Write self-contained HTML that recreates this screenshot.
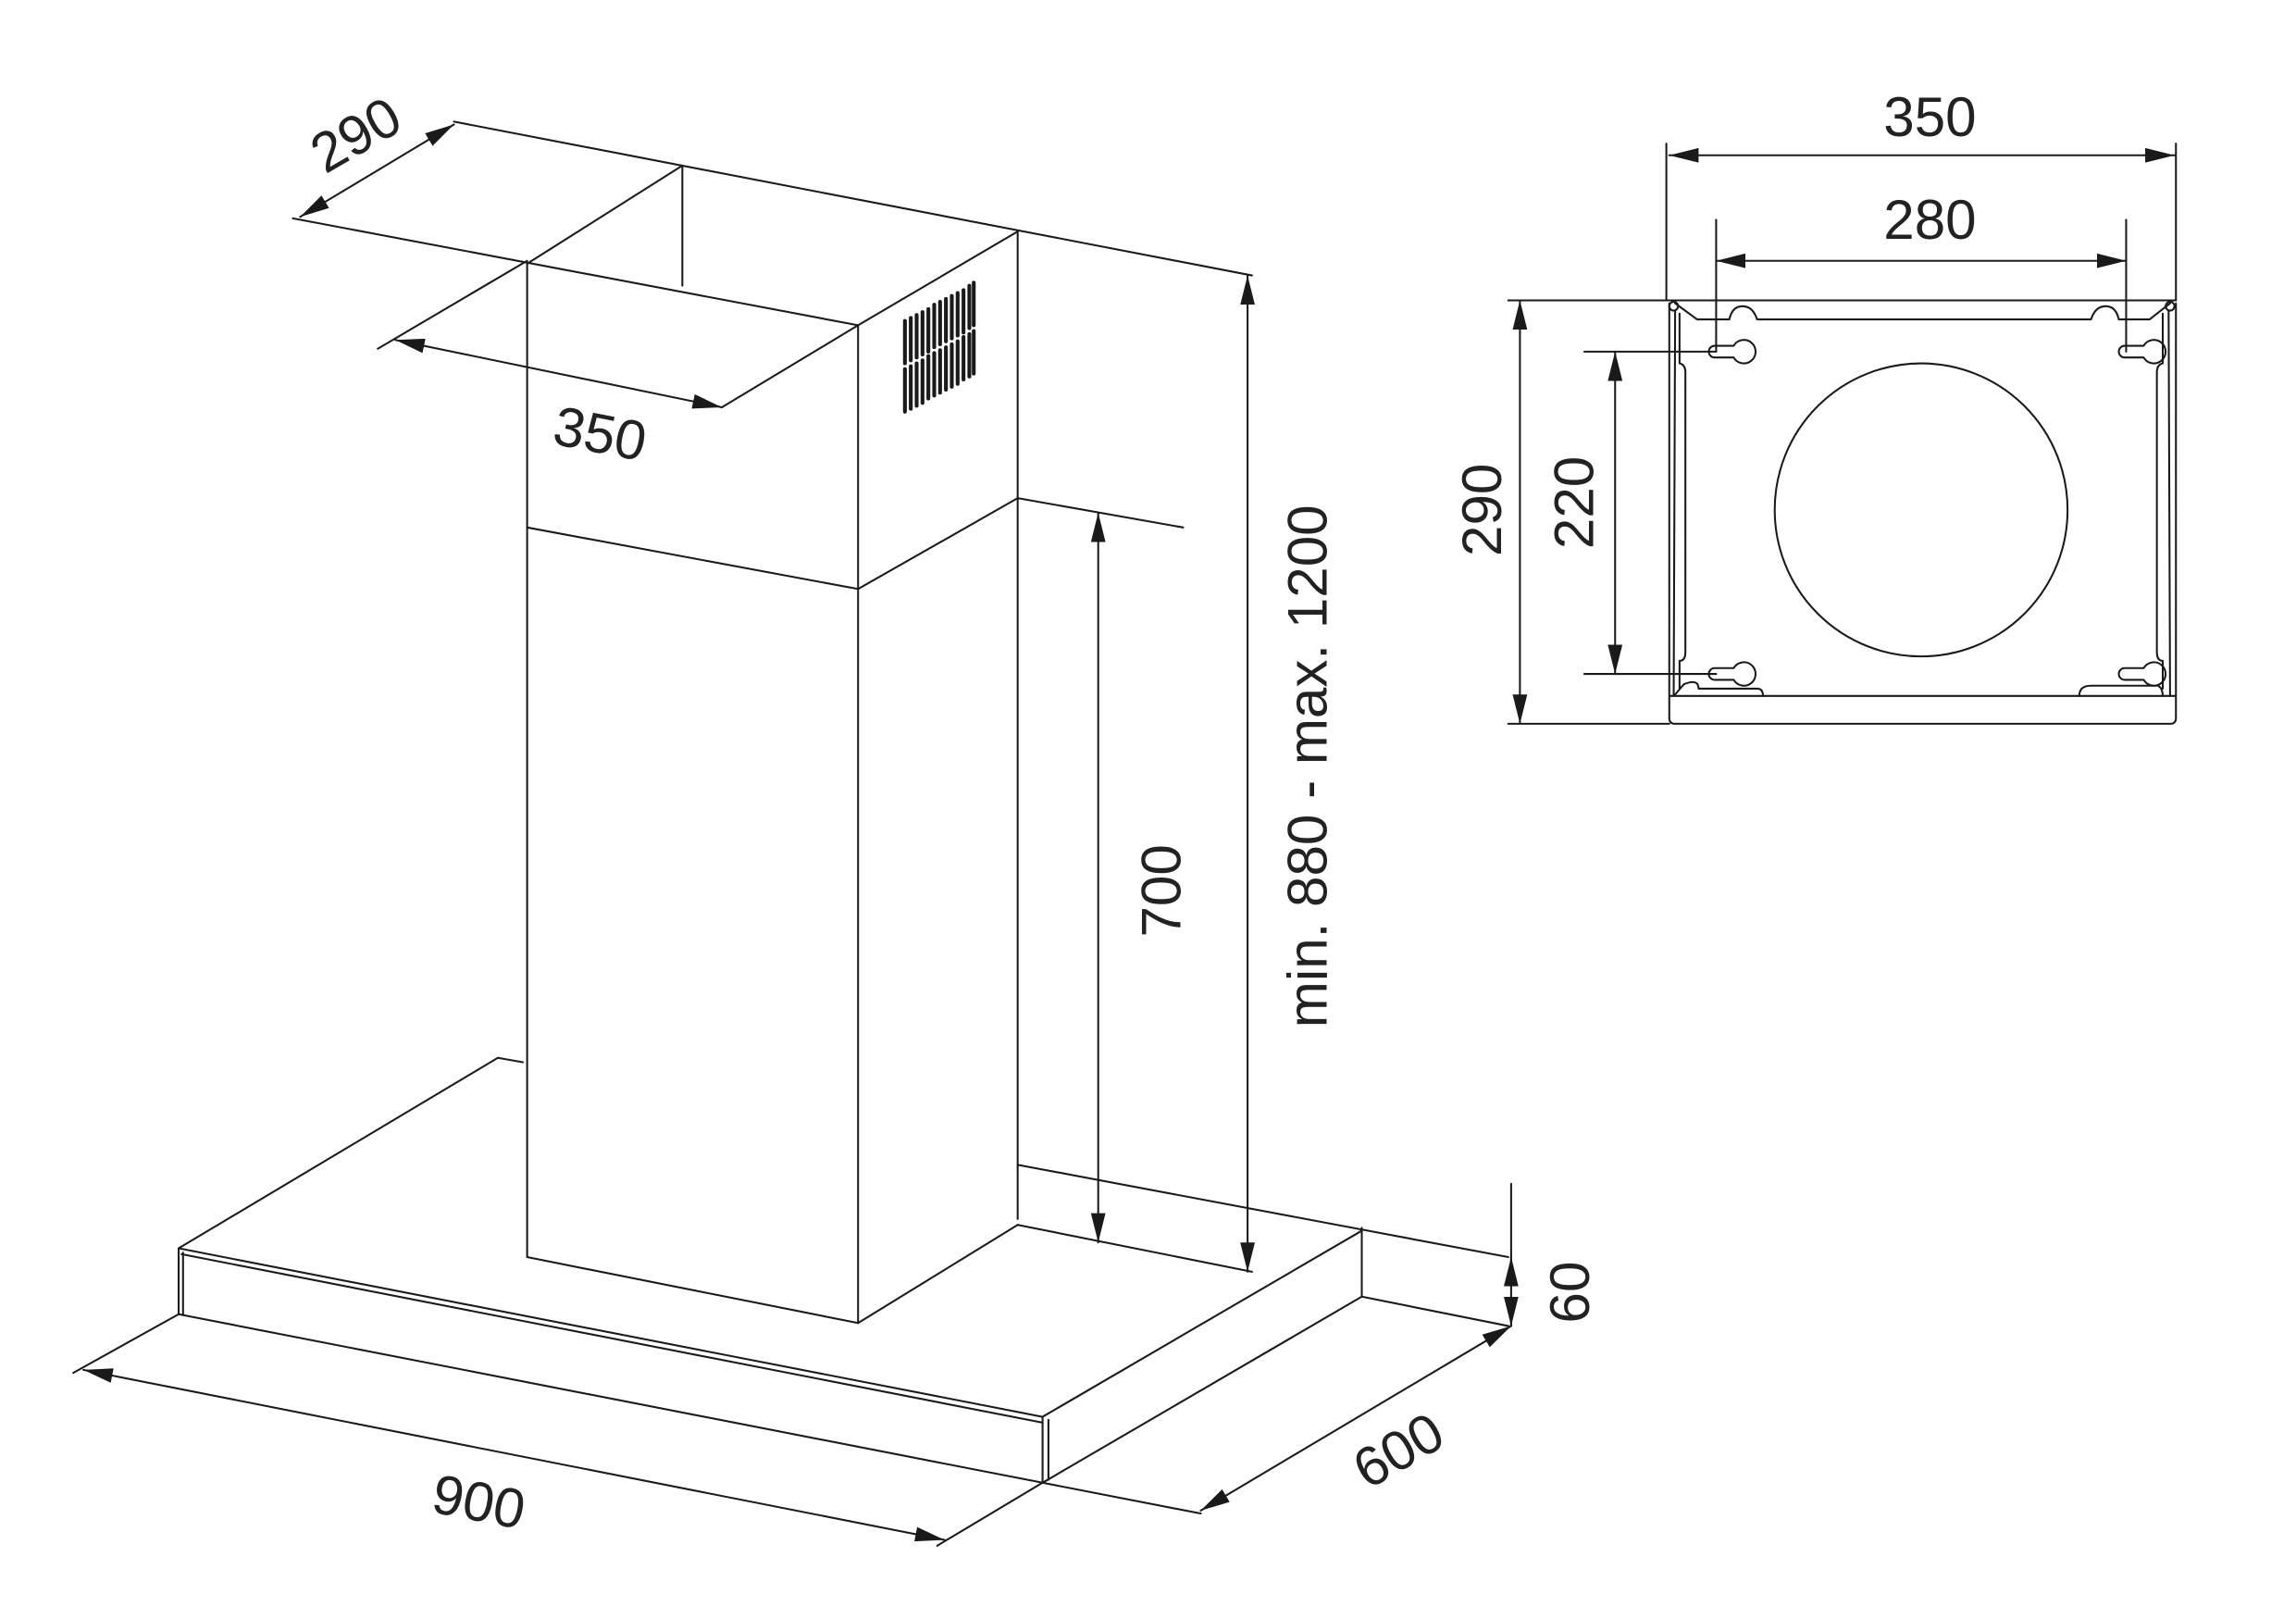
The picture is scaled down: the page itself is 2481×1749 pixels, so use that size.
<!DOCTYPE html>
<html><head><meta charset="utf-8"><style>
html,body{margin:0;padding:0;background:#fff;}
svg{display:block;}
text{font-family:"Liberation Sans",sans-serif;fill:#222;font-size:38px;}
</style></head><body>
<svg width="2481" height="1749" viewBox="0 0 1568 1105" preserveAspectRatio="none" xmlns="http://www.w3.org/2000/svg">
<defs>
<marker id="a" viewBox="0 0 20 10" refX="20" refY="5" markerWidth="20" markerHeight="10" markerUnits="userSpaceOnUse" orient="auto-start-reverse">
<path d="M0,0 L20,5 L0,10 z" fill="#1a1a1a"/></marker>
</defs>
<g stroke="#1a1a1a" stroke-width="1.3" fill="none" stroke-linecap="round" stroke-linejoin="round">
<line x1="360" y1="180" x2="466" y2="113"/>
<line x1="466" y1="113" x2="466" y2="195"/>
<line x1="310" y1="83" x2="855" y2="188"/>
<line x1="200" y1="149" x2="586" y2="222"/>
<line x1="586" y1="222" x2="695" y2="158"/>
<line x1="360" y1="180" x2="360" y2="858"/>
<line x1="586" y1="222" x2="586" y2="903"/>
<line x1="695" y1="158" x2="695" y2="832"/>
<line x1="360" y1="360" x2="586" y2="402"/>
<line x1="586" y1="402" x2="695" y2="340"/>
<line x1="695" y1="340" x2="808" y2="360"/>
<line x1="360" y1="858" x2="586" y2="903"/>
<line x1="586" y1="903" x2="695" y2="836"/>
<line x1="122" y1="852" x2="340" y2="722"/>
<line x1="340" y1="722" x2="357" y2="725"/>
<line x1="122" y1="852" x2="712" y2="967"/>
<line x1="124" y1="856" x2="712" y2="971"/>
<line x1="122" y1="852" x2="122" y2="897"/>
<line x1="125" y1="855" x2="125" y2="897"/>
<line x1="122" y1="897" x2="712" y2="1012"/>
<line x1="712" y1="967" x2="712" y2="1012"/>
<line x1="716" y1="969" x2="716" y2="1010"/>
<line x1="712" y1="967" x2="930" y2="840"/>
<line x1="930" y1="838" x2="930" y2="885"/>
<line x1="712" y1="1012" x2="930" y2="885"/>
<line x1="695" y1="795" x2="1030" y2="858"/>
<line x1="695" y1="836" x2="855" y2="868"/>
<line x1="930" y1="885" x2="1030" y2="905"/>
<line x1="258" y1="238" x2="360" y2="178"/>
<line x1="493" y1="278" x2="586" y2="222"/>
<line x1="122" y1="897" x2="50" y2="937"/>
<line x1="712" y1="1012" x2="640" y2="1055"/>
<line x1="712" y1="1012" x2="820" y2="1033"/>
<line x1="1032" y1="808" x2="1032" y2="905"/>
<line x1="205" y1="148" x2="310" y2="85" marker-start="url(#a)" marker-end="url(#a)"/>
<line x1="270" y1="232" x2="493" y2="278" marker-start="url(#a)" marker-end="url(#a)"/>
<line x1="852" y1="188" x2="852" y2="868" marker-start="url(#a)" marker-end="url(#a)"/>
<line x1="750" y1="350" x2="750" y2="848" marker-start="url(#a)" marker-end="url(#a)"/>
<line x1="1032" y1="878" x2="1032" y2="858" marker-end="url(#a)"/>
<line x1="1032" y1="885" x2="1032" y2="905" marker-end="url(#a)"/>
<line x1="820" y1="1031" x2="1032" y2="905" marker-start="url(#a)" marker-end="url(#a)"/>
<line x1="57" y1="935" x2="645" y2="1051" marker-start="url(#a)" marker-end="url(#a)"/>
<line x1="1138" y1="98" x2="1138" y2="205"/>
<line x1="1486" y1="98" x2="1486" y2="205"/>
<line x1="1140" y1="106" x2="1485" y2="106" marker-start="url(#a)" marker-end="url(#a)"/>
<line x1="1172" y1="150" x2="1172" y2="240"/>
<line x1="1452" y1="150" x2="1452" y2="240"/>
<line x1="1172" y1="178" x2="1452" y2="178" marker-start="url(#a)" marker-end="url(#a)"/>
<line x1="1030" y1="205" x2="1140" y2="205"/>
<line x1="1030" y1="494" x2="1140" y2="494"/>
<line x1="1038" y1="205" x2="1038" y2="494" marker-start="url(#a)" marker-end="url(#a)"/>
<line x1="1082" y1="240" x2="1172" y2="240"/>
<line x1="1082" y1="460" x2="1172" y2="460"/>
<line x1="1103" y1="240" x2="1103" y2="460" marker-start="url(#a)" marker-end="url(#a)"/>
<path d="M1140,207 L1140,490 Q1140,494 1144,494 L1482,494 Q1486,494 1486,490 L1486,207"/>
<line x1="1138" y1="205" x2="1486" y2="205"/>
<line x1="1141" y1="475" x2="1485" y2="475"/>
<path d="M1144,207 L1159,218 L1181,218 Q1183,209 1190,209 Q1197,209 1200,218 L1428,218 Q1431,209 1438,209 Q1445,209 1447,218 L1468,218 L1482,207"/>
<circle cx="1143" cy="209" r="3"/><circle cx="1482" cy="209" r="3"/>
<path d="M1144,212 L1143,475"/>
<path d="M1147,214 L1147,248 Q1151,249 1151,254 L1151,445 Q1151,451 1147,451 L1147,470"/>
<path d="M1481,212 L1482,475"/>
<path d="M1477,214 L1477,248 Q1473,249 1473,254 L1473,445 Q1473,451 1477,451 L1477,470"/>
<path d="M1144,474 L1150,467 Q1160,463 1160,470 L1160,470 L1200,470 Q1204,470 1204,475"/>
<path d="M1420,475 Q1420,468 1428,468 L1474,468 Q1477,470 1477,475"/>
<circle cx="1312" cy="348" r="100"/>
<path d="M1171,236 L1184,236 A8,8 0 1 1 1184,244 L1171,244 A4,4 0 0 1 1171,236 z"/>
<path d="M1171,456 L1184,456 A8,8 0 1 1 1184,464 L1171,464 A4,4 0 0 1 1171,456 z"/>
<path d="M1451,236 L1464,236 A8,8 0 1 1 1464,244 L1451,244 A4,4 0 0 1 1451,236 z"/>
<path d="M1451,456 L1464,456 A8,8 0 1 1 1464,464 L1451,464 A4,4 0 0 1 1451,456 z"/>
</g>
<g stroke="#1a1a1a" stroke-width="2.6" stroke-linecap="round" fill="none">
<line x1="618" y1="219" x2="618" y2="248"/><line x1="618" y1="252" x2="618" y2="281"/>
<line x1="622" y1="217" x2="622" y2="246"/><line x1="622" y1="250" x2="622" y2="279"/>
<line x1="626" y1="215" x2="626" y2="244"/><line x1="626" y1="248" x2="626" y2="277"/>
<line x1="630" y1="213" x2="630" y2="242"/><line x1="630" y1="246" x2="630" y2="275"/>
<line x1="634" y1="211" x2="634" y2="240"/><line x1="634" y1="243" x2="634" y2="272"/>
<line x1="638" y1="208" x2="638" y2="237"/><line x1="638" y1="241" x2="638" y2="270"/>
<line x1="642" y1="206" x2="642" y2="235"/><line x1="642" y1="239" x2="642" y2="268"/>
<line x1="646" y1="204" x2="646" y2="233"/><line x1="646" y1="237" x2="646" y2="266"/>
<line x1="650" y1="202" x2="650" y2="231"/><line x1="650" y1="235" x2="650" y2="264"/>
<line x1="654" y1="200" x2="654" y2="229"/><line x1="654" y1="233" x2="654" y2="262"/>
<line x1="658" y1="198" x2="658" y2="227"/><line x1="658" y1="230" x2="658" y2="259"/>
<line x1="662" y1="195" x2="662" y2="224"/><line x1="662" y1="228" x2="662" y2="257"/>
<line x1="665" y1="193" x2="665" y2="222"/><line x1="665" y1="226" x2="665" y2="255"/>
</g>
<text x="243" y="105" text-anchor="middle" transform="rotate(-30 243 92)">290</text>
<text x="410" y="309" text-anchor="middle" transform="rotate(11 410 295)">350</text>
<text x="893" y="536" text-anchor="middle" transform="rotate(-90 893 523)">min. 880 - max. 1200</text>
<text x="793" y="621" text-anchor="middle" transform="rotate(-90 793 608)">700</text>
<text x="1072" y="895" text-anchor="middle" transform="rotate(-90 1072 882)">60</text>
<text x="955" y="1003" text-anchor="middle" transform="rotate(-30 955 990)">600</text>
<text x="327" y="1038" text-anchor="middle" transform="rotate(11 327 1025)">900</text>
<text x="1318" y="93" text-anchor="middle">350</text>
<text x="1318" y="163" text-anchor="middle">280</text>
<text x="1012" y="361" text-anchor="middle" transform="rotate(-90 1012 348)">290</text>
<text x="1075" y="356" text-anchor="middle" transform="rotate(-90 1075 343)">220</text>
</svg>
</body></html>
